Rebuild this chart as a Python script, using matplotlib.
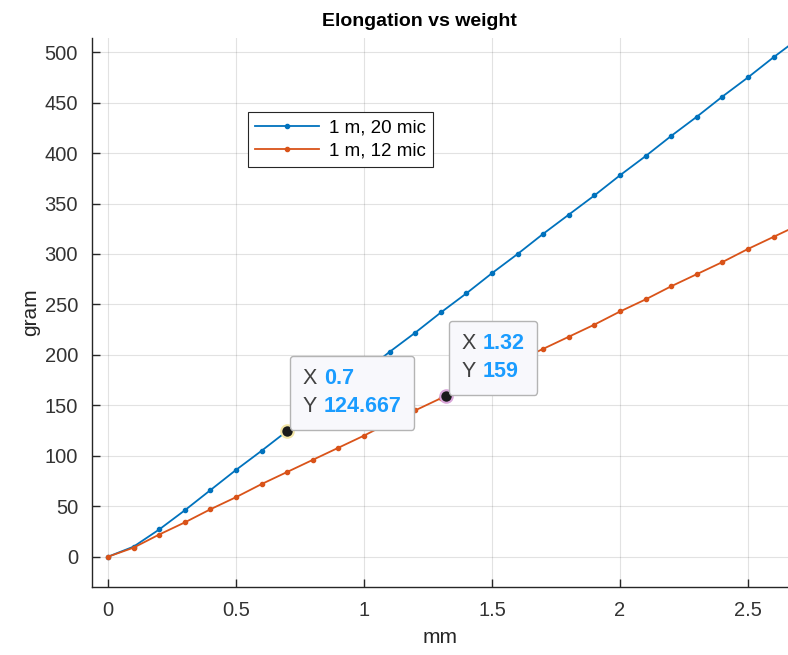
import numpy as np
import matplotlib
matplotlib.use("Agg")
import matplotlib.pyplot as plt
from matplotlib.offsetbox import TextArea, HPacker, VPacker, AnnotationBbox

plt.rcParams['font.family'] = ['Liberation Sans', 'DejaVu Sans']

# elongation (mm) vs weight (gram)
mm = [0.0, 0.1, 0.2, 0.3, 0.4, 0.5, 0.6, 0.7, 0.8, 0.9, 1.0, 1.1, 1.2, 1.3,
      1.4, 1.5, 1.6, 1.7, 1.8, 1.9, 2.0, 2.1, 2.2, 2.3, 2.4, 2.5, 2.6, 2.7]
gram_20 = [0, 10, 27, 46, 66, 86, 105, 124.667, 144, 163, 183, 203, 222, 242,
           261, 281, 300, 320, 339, 358, 378, 397, 417, 436, 456, 475, 495, 514]
gram_12 = [0, 9, 22, 34, 47, 59, 72, 84, 96, 108, 120, 133, 145, 157,
           170, 182, 194, 206, 218, 230, 243, 255, 268, 280, 292, 305, 317, 329]
labels = ['1 m, 20 mic', '1 m, 12 mic']

# data tips
tips = [(0.7, 124.667, '0.7', '124.667', '#f3e6a6'),
        (1.32, 159, '1.32', '159', '#d9a6d9')]

blue = '#0072BD'
orange = '#D95319'
dark = '#262626'
tipblue = '#1a9cff'

fig = plt.figure(figsize=(7.88, 6.55), dpi=100)
ax = fig.add_axes([92/788, 68/655, 1 - 92/788, 549/655])

ax.plot(mm, gram_20, '.-', color=blue, lw=1.3, ms=6, label=labels[0])
ax.plot(mm, gram_12, '.-', color=orange, lw=1.3, ms=6, label=labels[1])

ax.set_xlim(-0.0625, 2.656)
ax.set_ylim(-30, 514)
ax.set_xticks(np.arange(0, 2.51, 0.5))
ax.set_xticklabels(['0', '0.5', '1', '1.5', '2', '2.5'])
ax.set_yticks(np.arange(0, 501, 50))
ax.grid(True, color='#262626', alpha=0.13, lw=0.8)
ax.set_axisbelow(True)
for s in ['top', 'right']:
    ax.spines[s].set_visible(False)
for s in ['left', 'bottom']:
    ax.spines[s].set_color(dark)
    ax.spines[s].set_linewidth(1.0)
ax.tick_params(direction='in', length=6, width=1.0, colors=dark,
               labelsize=14.5, pad=10)
for t in ax.get_xticklabels() + ax.get_yticklabels():
    t.set_color('#333333')

ax.set_title('Elongation vs weight', fontsize=14, fontweight='bold',
             color='black', pad=9, x=0.47)
ax.set_xlabel('mm', fontsize=15, color=dark, labelpad=6)
ax.set_ylabel('gram', fontsize=15, color=dark, labelpad=3)

leg = ax.legend(loc='upper left', bbox_to_anchor=(0.224, 0.865),
                fontsize=13.5, frameon=True, fancybox=False,
                handlelength=3.4, borderpad=0.4, labelspacing=0.3,
                handletextpad=0.5, borderaxespad=0)
leg.get_frame().set_edgecolor('#262626')
leg.get_frame().set_linewidth(0.8)
leg.get_frame().set_alpha(1)

for x, y, xs, ys, ring in tips:
    ax.plot(x, y, 'o', ms=9, mfc='#1a1a1a', mec=ring, mew=1.5, zorder=6)
    rows = []
    for k, v in (('X', xs), ('Y', ys)):
        rows.append(HPacker(children=[
            TextArea(k, textprops=dict(color='#404040', fontsize=15.5)),
            TextArea(v, textprops=dict(color=tipblue, fontsize=15.5,
                                       fontweight='bold'))],
            align='baseline', pad=0, sep=5))
    box = VPacker(children=rows, align='left', pad=3, sep=5)
    ab = AnnotationBbox(box, (x, y), xybox=(8, 7), xycoords='data',
                        boxcoords='offset points', box_alignment=(0, 0),
                        pad=0.6, frameon=True, zorder=7,
                        bboxprops=dict(boxstyle='round,pad=0.6,rounding_size=0.25',
                                       fc='#f8f8fc', ec='#b4b4b4', lw=1.0))
    ax.add_artist(ab)

fig.savefig('out.png', dpi=100)
